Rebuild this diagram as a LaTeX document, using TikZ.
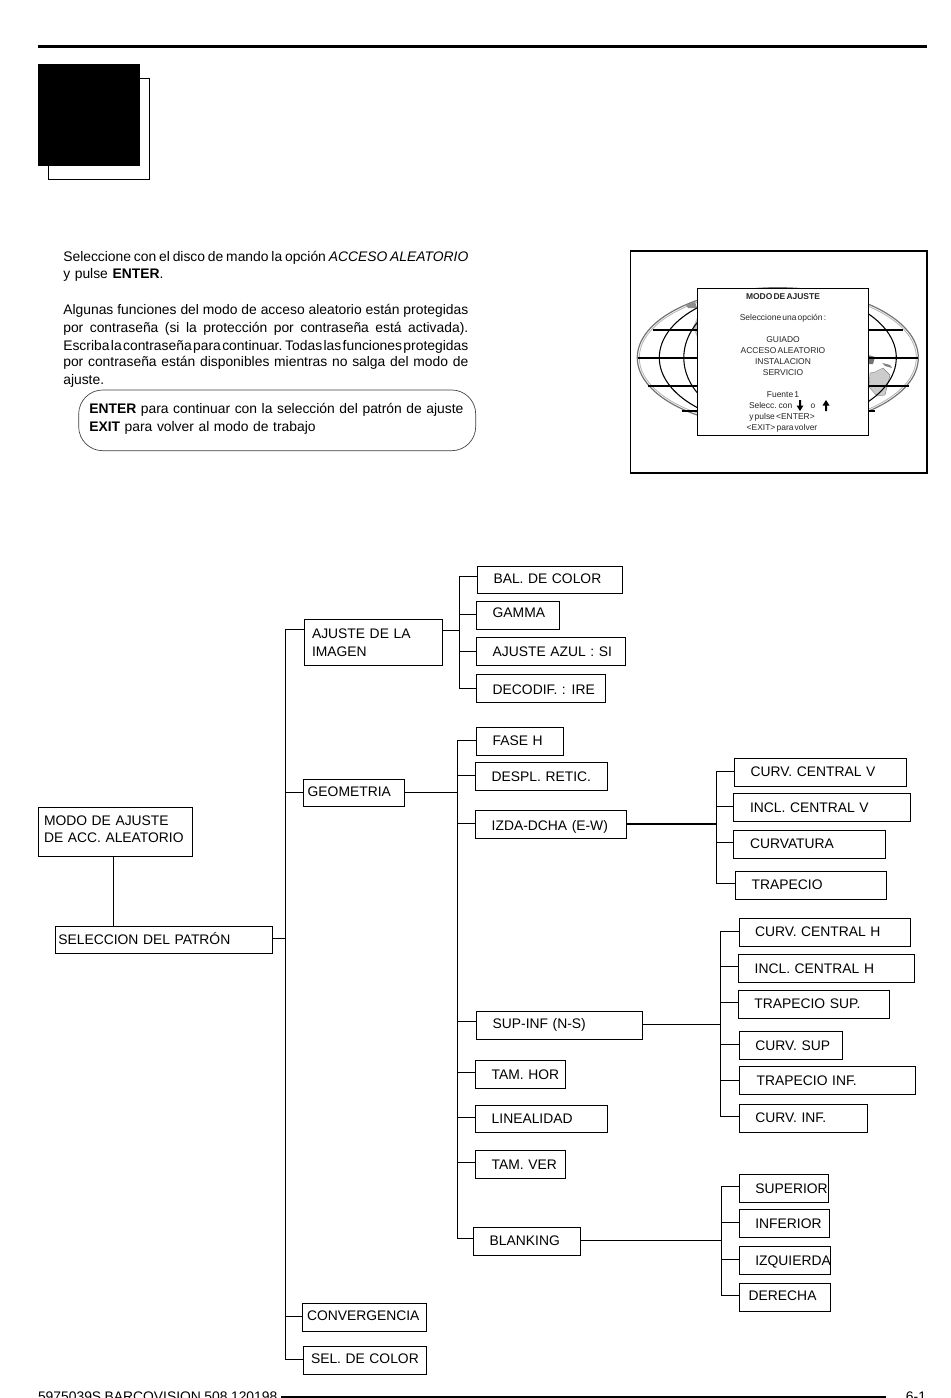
\documentclass[tikz,border=0pt]{standalone}
\usepackage{fontspec}
\setmainfont{Liberation Sans}
\newlength{\px}\setlength{\px}{0.75pt}
\newcommand{\bodyfs}{\fontsize{10.4pt}{13pt}\selectfont\spaceskip=.33em\relax}
\newcommand{\boxfs}{\fontsize{10.4pt}{13pt}\selectfont\spaceskip=.33em\relax}
\newcommand{\footfs}{\fontsize{10.4pt}{13pt}\selectfont\spaceskip=.25em\relax}
\newcommand{\menufs}{\fontsize{6.35pt}{8pt}\selectfont\spaceskip=.14em\relax}
\newcommand{\jl}[1]{\makebox[405\px][s]{\spaceskip=.1em plus 1fil\relax #1}}
\newcommand{\twol}[3]{\rlap{\raisebox{#3\px}{#1}}#2}
\tikzset{
  x=0.75pt,y=-0.75pt,
  lineconn/.style={line width=0.75pt,line cap=rect},
  boxnode/.style={draw,line width=0.75pt,fill=white,inner sep=0pt,outer sep=0pt,font=\boxfs},
  txtline/.style={anchor=base west,inner sep=0pt,outer sep=0pt,font=\bodyfs},
  menuline/.style={anchor=base,inner sep=0pt,outer sep=0pt,font=\menufs,text=black!85},
  globeline/.style={line width=1.5pt},
  merid/.style={line width=0.8pt},
  upd/.style={fill=black,draw=none}
}
% name, x0, y0, x1, y1, text x, text centre y, label
\newcommand{\bx}[8]{%
  \pgfmathsetmacro\bxXa{floor(#2)+0.5}%
  \pgfmathsetmacro\bxXb{floor(#4)+0.5}%
  \pgfmathsetmacro\bxYa{floor(#3)+0.5}%
  \pgfmathsetmacro\bxYb{floor(#5)+0.5}%
  \pgfmathsetmacro\bxW{(\bxXb-\bxXa)*0.75}%
  \pgfmathsetmacro\bxH{(\bxYb-\bxYa)*0.75}%
  \pgfmathsetmacro\bxP{(#6-\bxXa)*0.75}%
  \pgfmathsetmacro\bxR{((\bxYa+\bxYb)/2-#7-5)*0.75}%
  \node[boxnode,minimum width=\bxW pt,minimum height=\bxH pt] (#1) at ({(\bxXa+\bxXb)/2},{(\bxYa+\bxYb)/2})
    {\makebox[\bxW pt][l]{\hspace*{\bxP pt}\smash{\raisebox{\bxR pt}{#8}}}};%
}
\newcommand{\stub}[3]{\pgfmathsetmacro\snX{floor(#1)+0.5}\pgfmathsetmacro\snY{floor(#2)+0.5}\coordinate (s#3) at (\snX,\snY);\draw[lineconn] (s#3) -- (s#3 -| #3.west);}
\newcommand{\outl}[3]{\pgfmathsetmacro\snX{floor(#1)+0.5}\pgfmathsetmacro\snY{floor(#2)+0.5}\coordinate (o#3) at (\snX,\snY);\draw[lineconn] (o#3) -- (o#3 -| #3.east);}
\begin{document}
\begin{tikzpicture}
\useasboundingbox[fill=white] (0,0) rectangle (950,1398);
% header
\coordinate (hr0) at (38,46.5); \coordinate (hr1) at (927,46.5);
\draw[line width=1.8pt] (hr0) -- (hr1);
\draw[line width=0.75pt] (48.5,78.5) rectangle (149.5,179.5);
\fill[black] (37.7,63.7) rectangle (140,165.7);
% body text
\node[txtline] (t1) at (63.3,261.7) {\jl{Seleccione con el disco de mando la opción \textit{ACCESO ALEATORIO}}};
\node[txtline] (t2) at (63.3,278.7) {y pulse \textbf{ENTER}.};
\node[txtline] (t3) at (63.3,314.5) {\jl{Algunas funciones del modo de acceso aleatorio están protegidas}};
\node[txtline] (t4) at (63.3,332.3) {\jl{por contraseña (si la protección por contraseña está activada).}};
\node[txtline] (t5) at (63.3,350) {\jl{Escriba la contraseña para continuar. Todas las funciones protegidas}};
\node[txtline] (t6) at (63.3,366.7) {\jl{por contraseña están disponibles mientras no salga del modo de}};
\node[txtline] (t7) at (63.3,384.3) {ajuste.};
\draw[line width=0.5pt,draw=black!75,rounded corners=24\px] (78.7,390) rectangle (475.7,450.7);
\node[txtline] (e1) at (89.3,413.3) {\textbf{ENTER} para continuar con la selección del patrón de ajuste};
\node[txtline] (e2) at (89.3,431.2) {\textbf{EXIT} para volver al modo de trabajo};
% monitor
\draw[line width=1.2pt] (630.5,251) rectangle (926.7,472.7);
\draw[draw=black!55,line width=0.9pt] (777.8,357.7) ellipse [x radius=140.5,y radius=70];
\draw[draw=black!30,line width=0.6pt] (777.8,357.7) ellipse [x radius=138.5,y radius=68];
\fill[black!20,draw=black!50,line width=0.3pt] (870,373) -- (875,372) -- (883,368) -- (890,375) -- (885,395) -- (877,396) -- (869,387) -- cycle;
\fill[black!55] (868,355) -- (875,357) -- (873,364) -- (869,364) -- cycle;
\fill[black!50] (882,363) -- (890,365) -- (892,368) -- (885,366) -- cycle;
\fill[black!45] (686,305) -- (695,302) -- (697,308) -- (688,308) -- cycle;
\fill[black!25] (697,318) -- (693,327) -- (697,337) -- cycle;
\draw[merid] (777.8,357.7) ellipse [x radius=118.5,y radius=68];
\begin{scope}
\clip (630,251) rectangle (700,472);
\draw[merid] (777.8,357.7) ellipse [x radius=94,y radius=68];
\end{scope}
\draw[globeline] (637.5,357.7) -- (918,357.7);
\draw[globeline] (652.7,330) -- (903,330);
\draw[globeline] (648,385.7) -- (909,385.7);
\draw[globeline] (681.7,411) -- (875,411);
\node[draw,line width=0.8pt,fill=white,inner sep=0pt,outer sep=0pt,minimum width=128.25pt,minimum height=110.25pt] (menu) at (782.8,361.8) {};
\node[menuline,font=\menufs\bfseries] (m1) at (783,299) {MODO DE AJUSTE};
\node[menuline] (m2) at (783,320) {Seleccione una opción :};
\node[menuline] (m3) at (783,342) {GUIADO};
\node[menuline] (m4) at (783,353) {ACCESO ALEATORIO};
\node[menuline] (m5) at (783,364) {INSTALACION};
\node[menuline] (m6) at (783,375) {SERVICIO};
\node[menuline] (m7) at (783,397) {Fuente 1};
\node[menuline,anchor=base west] (m8) at (749,408) {Selecc. con};
\node[menuline,anchor=base] (m9) at (813,408) {o};
\node[menuline] (m10) at (782,419) {y pulse <ENTER>};
\node[menuline] (m11) at (782,430) {<EXIT> para volver};
\fill[upd] (799,400) -- (801,400) -- (801,405.5) -- (803.5,405.5) -- (800,411) -- (796.5,405.5) -- (799,405.5) -- cycle;
\fill[upd] (825,411) -- (827,411) -- (827,405.5) -- (829.5,405.5) -- (826,400) -- (822.5,405.5) -- (825,405.5) -- cycle;
% tree boxes
\bx{modo}{38.3}{807.3}{192.7}{856.3}{44}{837.3}{\twol{MODO DE AJUSTE}{DE ACC. ALEATORIO}{17.3}}
\bx{sel}{55.3}{926}{272.3}{953.3}{58.3}{939.3}{SELECCION DEL PATRÓN}
\bx{ajuste}{304.3}{619.3}{442.7}{665.3}{312}{651}{\twol{AJUSTE DE LA}{IMAGEN}{17.7}}
\bx{geom}{303.3}{779.3}{404.7}{806.3}{307.7}{791}{GEOMETRIA}
\bx{conv}{302.3}{1303.3}{426.3}{1331.3}{307}{1315}{CONVERGENCIA}
\bx{selc}{303.3}{1346.3}{426.3}{1374.3}{311}{1358}{SEL. DE COLOR}
\bx{bal}{477.3}{566.7}{622.7}{593.3}{493.5}{578.3}{BAL. DE COLOR}
\bx{gamma}{476.7}{601.3}{559.3}{629.3}{492.7}{612}{GAMMA}
\bx{azul}{476.7}{637.3}{625.7}{665.3}{492.7}{651}{AJUSTE AZUL : SI}
\bx{deco}{476.7}{674.3}{605.3}{702.3}{492.7}{689}{DECODIF. : IRE}
\bx{fase}{476.7}{727.3}{563.7}{755.3}{492.7}{740}{FASE H}
\bx{despl}{475.3}{762.3}{607.7}{790.3}{491.7}{776}{DESPL. RETIC.}
\bx{izda}{475.3}{810.3}{626.7}{838.3}{491.7}{825}{IZDA-DCHA (E-W)}
\bx{sup}{476}{1011.3}{642.7}{1039.3}{492.7}{1023.3}{SUP-INF (N-S)}
\bx{tamh}{475.3}{1060.3}{565.7}{1088.3}{491.7}{1074}{TAM. HOR}
\bx{lin}{475.3}{1105.3}{607.7}{1132.3}{491.7}{1118}{LINEALIDAD}
\bx{tamv}{475.3}{1150.3}{565.7}{1178.3}{491.7}{1164}{TAM. VER}
\bx{blank}{473.3}{1227.3}{580.7}{1255.3}{489.7}{1240}{BLANKING}
\bx{ccv}{734.3}{758.3}{906.3}{786.3}{750.7}{771}{CURV. CENTRAL V}
\bx{icv}{733.3}{793.3}{910.3}{821.3}{750}{807}{INCL. CENTRAL V}
\bx{curva}{733.3}{830.3}{885.7}{858.3}{750}{843.3}{CURVATURA}
\bx{trap}{735.3}{871.3}{886.7}{899.3}{751.7}{884}{TRAPECIO}
\bx{cch}{739.3}{918.3}{910.3}{946.3}{755}{931}{CURV. CENTRAL H}
\bx{ich}{738.3}{954.3}{914.7}{982.3}{754.7}{968.3}{INCL. CENTRAL H}
\bx{tsup}{738.3}{990.3}{889.7}{1018.3}{754.3}{1003.3}{TRAPECIO SUP.}
\bx{csup}{739.3}{1031.3}{842.7}{1059.3}{755.3}{1045}{CURV. SUP}
\bx{tinf}{739.3}{1066.3}{915.7}{1094.3}{756.7}{1080}{TRAPECIO INF.}
\bx{cinf}{739.3}{1104.3}{867.7}{1132.3}{755.3}{1117.3}{CURV. INF.}
\bx{bsup}{739.3}{1174.3}{828.7}{1202.3}{755.3}{1188}{SUPERIOR}
\bx{binf}{739.3}{1209.3}{829.7}{1237.3}{755.3}{1223}{INFERIOR}
\bx{bizq}{739.3}{1246.3}{830.7}{1274.3}{755.3}{1260}{IZQUIERDA}
\bx{bder}{739.3}{1283.3}{830.7}{1311.3}{748.7}{1295}{DERECHA}
% connectors
\coordinate (mc) at (113.5,880);
\draw[lineconn] (modo.south -| mc) -- (sel.north -| mc);
\outl{285.7}{938.3}{sel}
\stub{285.7}{629.7}{ajuste}
\stub{285.7}{792.3}{geom}
\stub{285.7}{1316}{conv}
\stub{285.7}{1359}{selc}
\draw[lineconn] (sajuste) -- (sselc);
\outl{459.3}{630.3}{ajuste}
\stub{459.3}{576.3}{bal}
\stub{459.3}{614.7}{gamma}
\stub{459.3}{651.7}{azul}
\stub{459.3}{688.3}{deco}
\draw[lineconn] (sbal) -- (sdeco);
\outl{457.7}{792.3}{geom}
\stub{457.7}{740.3}{fase}
\stub{457.7}{775}{despl}
\stub{457.7}{823}{izda}
\stub{457.7}{1021}{sup}
\stub{457.7}{1072}{tamh}
\stub{457.7}{1117.3}{lin}
\stub{457.7}{1162}{tamv}
\stub{457.7}{1238.3}{blank}
\draw[lineconn,line width=1pt] (sfase) -- (sblank);
\coordinate (oizda) at (716.5,823.7);
\draw[line width=1.6pt] (oizda) -- (oizda -| izda.east);
\stub{716.7}{771}{ccv}
\stub{716.7}{806.3}{icv}
\stub{716.7}{842.3}{curva}
\stub{716.7}{883.3}{trap}
\draw[lineconn] (sccv) -- (strap);
\outl{720.3}{1024.3}{sup}
\stub{720.3}{931.7}{cch}
\stub{720.3}{966}{ich}
\stub{720.3}{1002.3}{tsup}
\stub{720.3}{1044.3}{csup}
\stub{720.3}{1080}{tinf}
\stub{720.3}{1116}{cinf}
\draw[lineconn] (scch) -- (scinf);
\outl{721.7}{1240.3}{blank}
\stub{721.7}{1186}{bsup}
\stub{721.7}{1222.3}{binf}
\stub{721.7}{1259.3}{bizq}
\stub{721.7}{1295.3}{bder}
\draw[lineconn] (sbsup) -- (sbder);
% footer
\node[txtline,font=\footfs] (f1) at (38,1401.7) {5975039S BARCOVISION 508 120198};
\node[txtline,anchor=base east] (f2) at (926,1401.7) {6-1};
\coordinate (fr) at (886,1396.7);
\draw[line width=1.8pt] (f1.east |- fr) ++(4,0) -- (fr);
\end{tikzpicture}
\end{document}
